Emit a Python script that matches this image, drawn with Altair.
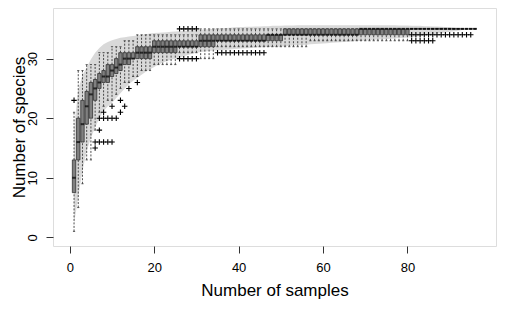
import altair as alt
import pandas as pd

# ---- data ----
n_samples = list(range(1, 97))

# confidence band (mean +/- 2 sd)
band_upper = [18.3, 24.8, 27.2, 28.5, 29.9, 31.0, 31.8, 32.4, 32.8, 33.1,
              33.3, 33.5, 33.6, 33.7, 33.8, 33.9, 34.0, 34.1, 34.2, 34.3,
              34.35, 34.4, 34.45, 34.5, 34.55, 34.6, 34.65, 34.7, 34.75, 34.8,
              34.85, 34.9, 34.95, 35.0, 35.05, 35.1, 35.15, 35.2, 35.25, 35.3,
              35.3, 35.35, 35.35, 35.4, 35.4, 35.45, 35.45, 35.5, 35.5, 35.5,
              35.55, 35.55, 35.55, 35.6, 35.6, 35.6, 35.6, 35.6, 35.6, 35.6,
              35.6, 35.6, 35.6, 35.6, 35.6, 35.6, 35.6, 35.6, 35.6, 35.6,
              35.6, 35.6, 35.6, 35.6, 35.6, 35.6, 35.6, 35.55, 35.55, 35.55,
              35.5, 35.5, 35.5, 35.45, 35.45, 35.4, 35.4, 35.35, 35.3, 35.25,
              35.2, 35.15, 35.1, 35.05, 35.02, 35.0]
band_lower = [2.3, 6.8, 11.2, 14.5, 16.7, 18.5, 20.0, 21.2, 22.0, 22.6,
              23.4, 24.2, 25.0, 25.7, 26.3, 26.8, 27.3, 27.8, 28.2, 28.6,
              29.0, 29.3, 29.6, 29.8, 30.0, 30.2, 30.4, 30.6, 30.8, 31.0,
              31.1, 31.2, 31.3, 31.35, 31.4, 31.45, 31.5, 31.55, 31.6, 31.65,
              31.7, 31.75, 31.8, 31.85, 31.9, 31.92, 31.94, 31.96, 31.98, 32.0,
              32.1, 32.15, 32.2, 32.25, 32.3, 32.35, 32.4, 32.45, 32.5, 32.55,
              32.6, 32.65, 32.7, 32.75, 32.8, 32.85, 32.9, 32.95, 33.0, 33.05,
              33.1, 33.15, 33.2, 33.25, 33.3, 33.35, 33.4, 33.45, 33.5, 33.55,
              33.6, 33.7, 33.8, 33.9, 34.0, 34.1, 34.2, 34.3, 34.4, 34.5,
              34.6, 34.7, 34.8, 34.9, 34.95, 35.0]

# boxplot statistics per number of samples
whisk_lo = [1, 5, 9, 13, 13, 18, 21, 22, 23, 23,
            24, 25, 26, 26, 27, 27, 28, 28, 28, 29,
            29, 29, 29, 29, 29, 31, 31, 31, 31, 31,
            30, 30, 30, 30, 32, 32, 32, 32, 32, 32,
            32, 32, 32, 32, 32, 32, 32, 32, 32, 32,
            32, 32, 32, 32, 32, 32, 33, 33, 33, 33,
            33, 33, 33, 33, 33, 33, 33, 33, 33, 33,
            33, 33, 33, 33, 33, 33, 33, 33, 33, 33,
            35, 35, 35, 35, 35, 35, 35, 35, 35, 35,
            35, 35, 35, 35, 35, 35]
box_q1 = [7.5, 13, 16, 19, 20, 23, 25, 26, 26, 27,
          27.5, 28, 29, 29, 30, 30, 30, 30, 30, 31,
          31, 31, 31, 31, 31, 32, 32, 32, 32, 32,
          32, 32, 32, 32, 33, 33, 33, 33, 33, 33,
          33, 33, 33, 33, 33, 33, 33, 33, 33, 33,
          34, 34, 34, 34, 34, 34, 34, 34, 34, 34,
          34, 34, 34, 34, 34, 34, 34, 34, 34, 34,
          34, 34, 34, 34, 34, 34, 34, 34, 34, 34,
          35, 35, 35, 35, 35, 35, 35, 35, 35, 35,
          35, 35, 35, 35, 35, 35]
box_med = [10, 16, 19, 22, 24, 25, 26, 27, 27, 28,
           28.5, 29, 30, 30, 30, 31, 31, 31, 31, 32,
           32, 32, 32, 32, 32, 32, 32, 32, 32, 32,
           33, 33, 33, 33, 33, 33, 33, 33, 33, 33,
           33, 33, 33, 33, 33, 33, 34, 34, 34, 34,
           34, 34, 34, 34, 34, 34, 34, 34, 34, 34,
           34, 34, 34, 34, 34, 34, 34, 34, 35, 35,
           35, 35, 35, 35, 35, 35, 35, 35, 35, 35,
           35, 35, 35, 35, 35, 35, 35, 35, 35, 35,
           35, 35, 35, 35, 35, 35]
box_q3 = [13, 20, 23, 24.5, 26, 26.5, 27.5, 28, 29, 29,
          30, 31, 31, 31, 31, 32, 32, 32, 32, 33,
          33, 33, 33, 33, 33, 33, 33, 33, 33, 33,
          34, 34, 34, 34, 34, 34, 34, 34, 34, 34,
          34, 34, 34, 34, 34, 34, 34, 34, 34, 34,
          35, 35, 35, 35, 35, 35, 35, 35, 35, 35,
          35, 35, 35, 35, 35, 35, 35, 35, 35, 35,
          35, 35, 35, 35, 35, 35, 35, 35, 35, 35,
          35, 35, 35, 35, 35, 35, 35, 35, 35, 35,
          35, 35, 35, 35, 35, 35]
whisk_hi = [21, 28, 28, 29, 29, 29, 31, 31, 31, 32,
            32, 32, 33, 33, 33, 34, 34, 34, 34, 34,
            34, 34, 34, 34, 34, 34, 34, 34, 34, 34,
            35, 35, 35, 35, 35, 35, 35, 35, 35, 35,
            35, 35, 35, 35, 35, 35, 35, 35, 35, 35,
            35, 35, 35, 35, 35, 35, 35, 35, 35, 35,
            35, 35, 35, 35, 35, 35, 35, 35, 35, 35,
            35, 35, 35, 35, 35, 35, 35, 35, 35, 35,
            35, 35, 35, 35, 35, 35, 35, 35, 35, 35,
            35, 35, 35, 35, 35, 35]

# outliers: sample count and species count
out_n = [1, 6, 6, 7, 8, 9, 10, 7, 7, 8, 9, 10, 11, 8, 10, 12, 12, 13, 14, 16,
         26, 27, 28, 29, 30, 26, 27, 28, 29, 30,
         35, 36, 37, 38, 39, 40, 41, 42, 43, 44, 45, 46,
         81, 82, 83, 84, 85, 86,
         81, 82, 83, 84, 85, 86, 87, 88, 89, 90, 91, 92, 93, 94, 95]
out_v = [23, 15, 16, 16, 16, 16, 16, 18, 20, 20, 20, 20, 20, 21, 22, 21, 23, 22, 25, 26,
         30, 30, 30, 30, 30, 35, 35, 35, 35, 35,
         31, 31, 31, 31, 31, 31, 31, 31, 31, 31, 31, 31,
         33, 33, 33, 33, 33, 33,
         34, 34, 34, 34, 34, 34, 34, 34, 34, 34, 34, 34, 34, 34, 34]

x_ticks = [0, 20, 40, 60, 80]
y_ticks = [0, 10, 20, 30]

# ---- tables ----
df = pd.DataFrame({"n": n_samples, "U": band_upper, "L": band_lower,
                   "lo": whisk_lo, "q1": box_q1, "med": box_med,
                   "q3": box_q3, "hi": whisk_hi})
outl = pd.DataFrame({"n": out_n, "v": out_v})

FONT = "Liberation Sans"
xs = alt.Scale(domain=[-2.8, 99.8], nice=False, zero=False)
ys = alt.Scale(domain=[-1.45, 38.5], nice=False, zero=False)

X = alt.X("n:Q", scale=xs,
          axis=alt.Axis(values=x_ticks, title="Number of samples", grid=False,
                        domain=False, tickSize=7, tickColor="#333",
                        labelPadding=8, labelFontSize=13, labelFont=FONT,
                        labelColor="#000", titleFont=FONT, titleFontSize=17,
                        titleFontWeight="normal", titleColor="#000",
                        titleBaseline="alphabetic", titleY=49))

base = alt.Chart(df)

band = base.mark_area(color="#d9d9d9", opacity=1).encode(
    x=X,
    y=alt.Y("L:Q", scale=ys,
            axis=alt.Axis(values=y_ticks, title="Number of species", grid=False,
                          domain=False, tickSize=7, tickColor="#333",
                          labelAngle=270, labelAlign="center",
                          labelBaseline="alphabetic", labelPadding=10,
                          labelFontSize=13, labelFont=FONT, labelColor="#000",
                          titleFont=FONT, titleFontSize=17,
                          titleFontWeight="normal", titleColor="#000",
                          titleAngle=270, titleBaseline="alphabetic",
                          titleX=-29)),
    y2="U:Q")

wl = base.mark_rule(color="#222", strokeWidth=0.8, strokeDash=[2, 1.5]).encode(
    x="n:Q", y=alt.Y("lo:Q"), y2="q1:Q")
wh = base.mark_rule(color="#222", strokeWidth=0.8, strokeDash=[2, 1.5]).encode(
    x="n:Q", y=alt.Y("q3:Q"), y2="hi:Q")
st_lo = base.mark_tick(orient="horizontal", size=2.2, thickness=1, color="#222").encode(
    x="n:Q", y="lo:Q")
st_hi = base.mark_tick(orient="horizontal", size=2.2, thickness=1, color="#222").encode(
    x="n:Q", y="hi:Q")
box = base.mark_bar(width=3.4, color="#808080", stroke="#222", strokeWidth=0.7).encode(
    x="n:Q", y="q1:Q", y2="q3:Q")
med = base.mark_tick(orient="horizontal", size=3.6, thickness=2, color="#000").encode(
    x="n:Q", y="med:Q")
outs = alt.Chart(outl).mark_point(shape="M-1,0H1M0,-1V1", size=30, filled=False,
                                  stroke="#000", strokeWidth=1.1, opacity=1).encode(
    x="n:Q", y="v:Q")

chart = alt.layer(band, wl, wh, st_lo, st_hi, box, med, outs).properties(
    width=443, height=238,
    autosize=alt.AutoSizeParams(type="none"),
    padding={"left": 45, "top": 0, "right": 1, "bottom": 54},
).configure_view(stroke="#333", strokeWidth=1.2).configure(background="white")

chart.save("out.html", embed_options={"renderer": "svg", "actions": False})
